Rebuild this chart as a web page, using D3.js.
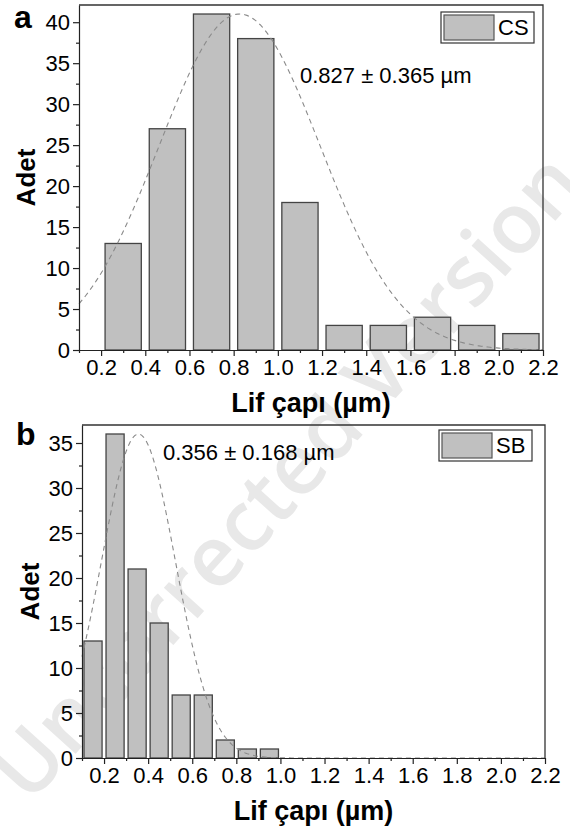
<!DOCTYPE html>
<html>
<head>
<meta charset="utf-8">
<script src="https://cdn.jsdelivr.net/npm/d3@7"></script>
<style>
  body { margin: 0; background: #fff; }
  svg { display: block; font-family: "Liberation Sans", Arial, sans-serif; }
  .tick text { font-family: "Liberation Sans", Arial, sans-serif; font-size: 22px; fill: #000; }
  .tick line, .domain { stroke: #222; stroke-width: 1.2; }
</style>
</head>
<body>
<div id="chart"></div>
<script>
// panel a (CS)
var binsA = [0.3, 0.5, 0.7, 0.9, 1.1, 1.3, 1.5, 1.7, 1.9, 2.1];
var countsA = [13, 27, 41, 38, 18, 3, 3, 4, 3, 2];
var fitA = [41, 0.827, 0.365];   // peak, mean, sd
// panel b (SB)
var binsB = [0.15, 0.25, 0.35, 0.45, 0.55, 0.65, 0.75, 0.85, 0.95];
var countsB = [13, 36, 21, 15, 7, 7, 2, 1, 1];
var fitB = [36, 0.356, 0.168];
var xTicks = [0.2, 0.4, 0.6, 0.8, 1.0, 1.2, 1.4, 1.6, 1.8, 2.0, 2.2];
var xMinor = [0.1, 0.3, 0.5, 0.7, 0.9, 1.1, 1.3, 1.5, 1.7, 1.9, 2.1];

var width = 570,
    height = 831;

var svg = d3.select("#chart")
  .append("svg")
  .attr("width", width)
  .attr("height", height);

// watermark, behind everything
svg.append("text")
  .attr("transform", "translate(286,476) rotate(-48)")
  .attr("text-anchor", "middle")
  .attr("dy", "0.35em")
  .style("font-family", "'Open Sans', sans-serif")
  .style("font-weight", "600")
  .style("font-size", "84px")
  .style("fill", "#e8e8e8")
  .text("Uncorrected Version");

function panel(o) {
  var x = d3.scaleLinear().domain([0.1, 2.2]).range([o.left, o.right]);
  var y = d3.scaleLinear().domain([0, o.ymax]).range([o.bottom, o.top]);
  var g = svg.append("g");

  // bars
  g.selectAll("rect.bar")
    .data(o.bins)
    .enter().append("rect")
    .attr("class", "bar")
    .attr("x", function(d) { return x(Math.max(0.1, d - o.bw / 2)); })
    .attr("width", function(d) { return x(d + o.bw / 2) - x(Math.max(0.1, d - o.bw / 2)); })
    .attr("y", function(d, i) { return y(o.counts[i]); })
    .attr("height", function(d, i) { return y(0) - y(o.counts[i]); })
    .attr("fill", "#c0c0c0")
    .attr("stroke", "#444")
    .attr("stroke-width", 1.3);

  // gaussian fit line
  var xs = d3.range(0.1, 2.2001, 0.01);
  var line = d3.line()
    .x(function(d) { return x(d); })
    .y(function(d) { return y(o.fit[0] * Math.exp(-Math.pow(d - o.fit[1], 2) / (2 * o.fit[2] * o.fit[2]))); });
  g.append("path")
    .datum(xs)
    .attr("d", line)
    .attr("fill", "none")
    .attr("stroke", "#8a8a8a")
    .attr("stroke-width", 1.1)
    .attr("stroke-dasharray", "5,4");

  // frame top/right
  g.append("path")
    .attr("d", "M" + o.left + "," + o.top + "H" + o.right + "V" + o.bottom)
    .attr("fill", "none")
    .attr("stroke", "#333")
    .attr("stroke-width", 1.3);

  // axes
  g.append("g")
    .attr("transform", "translate(0," + o.bottom + ")")
    .call(d3.axisBottom(x).tickValues(xMinor).tickSize(3).tickFormat(""))
    .call(function(s) { s.select(".domain").remove(); });
  g.append("g")
    .attr("transform", "translate(0," + o.bottom + ")")
    .call(d3.axisBottom(x).tickValues(xTicks).tickSize(6).tickSizeOuter(0).tickFormat(d3.format(".1f")));

  var yMajor = d3.range(0, o.ymax + 0.01, 5);
  var yMinor = d3.range(2.5, o.ymax, 5);
  g.append("g")
    .attr("transform", "translate(" + o.left + ",0)")
    .call(d3.axisLeft(y).tickValues(yMinor).tickSize(3).tickFormat(""))
    .call(function(s) { s.select(".domain").remove(); });
  g.append("g")
    .attr("transform", "translate(" + o.left + ",0)")
    .call(d3.axisLeft(y).tickValues(yMajor).tickSize(6).tickSizeOuter(0));

  // titles
  g.append("text")
    .attr("x", (o.left + o.right) / 2)
    .attr("y", o.bottom + 62)
    .attr("text-anchor", "middle")
    .style("font-size", "27px")
    .style("font-weight", "bold")
    .text("Lif çapı (µm)");
  g.append("text")
    .attr("transform", "translate(" + o.ylabX + "," + ((o.top + o.bottom) / 2) + ") rotate(-90)")
    .attr("text-anchor", "middle")
    .style("font-size", "26px")
    .style("font-weight", "bold")
    .text("Adet");
  g.append("text")
    .attr("x", o.tagX)
    .attr("y", o.tagY)
    .style("font-size", "32px")
    .style("font-weight", "bold")
    .text(o.tag);

  // annotation
  g.append("text")
    .attr("x", o.annX)
    .attr("y", o.annY)
    .style("font-size", "22px")
    .text(o.ann);

  // legend
  var lg = g.append("g").attr("transform", "translate(" + o.legX + "," + o.legY + ")");
  lg.append("rect")
    .attr("width", 93).attr("height", 31)
    .attr("fill", "#fff").attr("stroke", "#333").attr("stroke-width", 1.2);
  lg.append("rect")
    .attr("x", 3).attr("y", 3).attr("width", 50).attr("height", 25)
    .attr("fill", "#c0c0c0").attr("stroke", "#555").attr("stroke-width", 1.2);
  lg.append("text")
    .attr("x", 57).attr("y", 23)
    .style("font-size", "22px")
    .text(o.name);
}

panel({
  bins: binsA, counts: countsA, fit: fitA, bw: 0.164, ymax: 42.1,
  left: 79, right: 543, top: 5, bottom: 350,
  ylabX: 35, tag: "a", tagX: 14, tagY: 28,
  ann: "0.827 ± 0.365 µm", annX: 300, annY: 83,
  legX: 441, legY: 12, name: "CS"
});

panel({
  bins: binsB, counts: countsB, fit: fitB, bw: 0.082, ymax: 37,
  left: 82, right: 545, top: 425, bottom: 758,
  ylabX: 39, tag: "b", tagX: 16, tagY: 445,
  ann: "0.356 ± 0.168 µm", annX: 163, annY: 460,
  legX: 439, legY: 430, name: "SB"
});
</script>
</body>
</html>
